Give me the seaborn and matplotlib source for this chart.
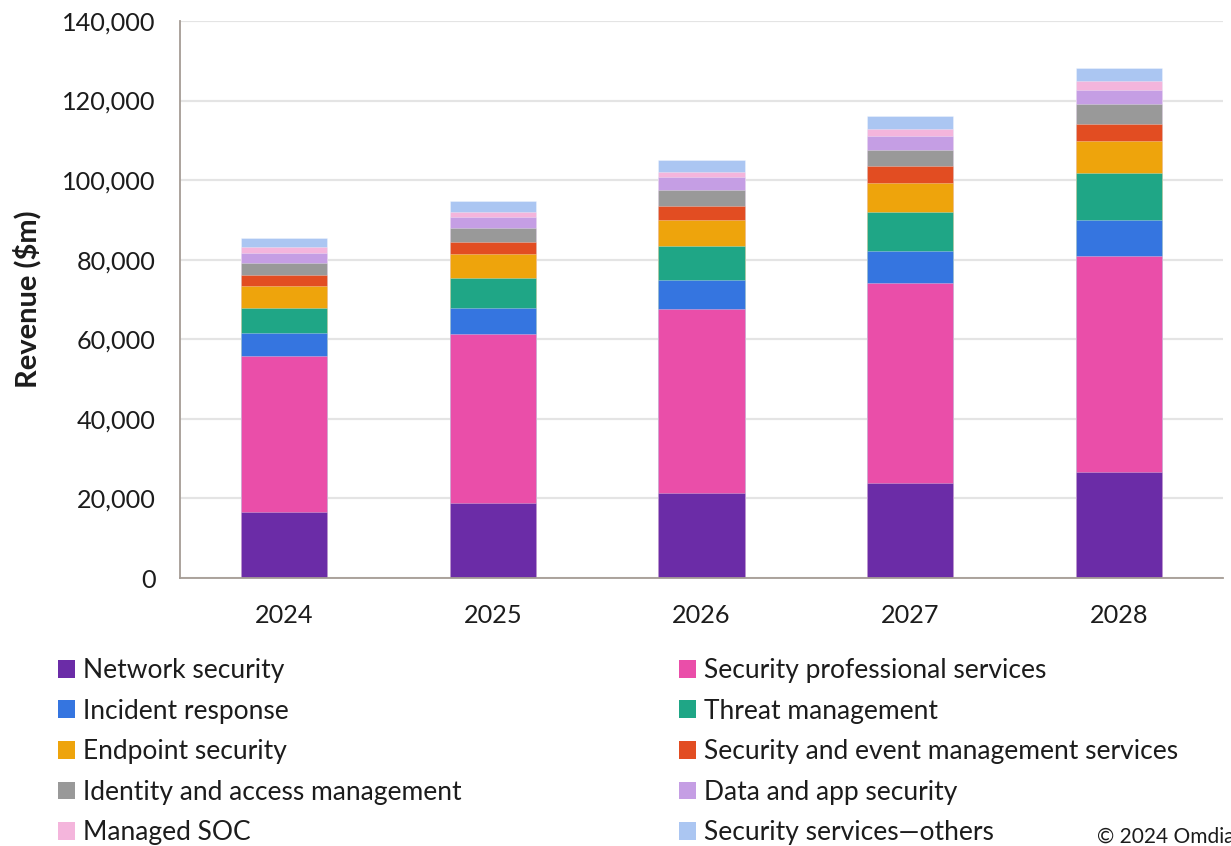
import matplotlib
matplotlib.use("Agg")
import matplotlib.pyplot as plt
from matplotlib.patches import Patch
from matplotlib.ticker import FuncFormatter, MultipleLocator, FixedLocator
import numpy as np
import pandas as pd
import seaborn as sns

# Revenue by segment, $m
years = ["2024", "2025", "2026", "2027", "2028"]
network_security = [16500, 18850, 21400, 23800, 26550]
security_professional_services = [39380, 42560, 46140, 50270, 54460]
incident_response = [5780, 6530, 7290, 8040, 9050]
threat_management = [6280, 7540, 8620, 9960, 11660]
endpoint_security = [5450, 5880, 6530, 7210, 8040]
siem_services = [2770, 3090, 3520, 4200, 4430]
identity_access = [3090, 3450, 4100, 4180, 4870]
data_app_security = [2440, 2760, 3110, 3440, 3680]
managed_soc = [1430, 1410, 1340, 1760, 2100]
services_others = [2340, 2770, 3090, 3340, 3430]

segments = [
    ("Network security", network_security, "#6b2ca7"),
    ("Security professional services", security_professional_services, "#ea4ea9"),
    ("Incident response", incident_response, "#3575e0"),
    ("Threat management", threat_management, "#1fa686"),
    ("Endpoint security", endpoint_security, "#eea40c"),
    ("Security and event management services", siem_services, "#e24d22"),
    ("Identity and access management", identity_access, "#999999"),
    ("Data and app security", data_app_security, "#c59ee4"),
    ("Managed SOC", managed_soc, "#f4b5dc"),
    ("Security services\u2014others", services_others, "#abc6f2"),
]

sns.set_style("white")
plt.rcParams["font.family"] = ["Lato", "DejaVu Sans"]
text_color = "#1c1c1c"
axis_color = "#a59c95"

fig = plt.figure(figsize=(12.31, 8.46), dpi=100)
ax = fig.add_axes([180 / 1231, 268 / 846, 1043 / 1231, 557 / 846])

# Stacked columns: draw running totals from the top layer down
running = np.zeros(len(years))
cumulative = []
for name, vals, color in segments:
    running = running + np.array(vals, dtype=float)
    cumulative.append((name, running.copy(), color))

for name, tops, color in reversed(cumulative):
    sns.barplot(x=years, y=tops, color=color, saturation=1, width=0.414,
                errorbar=None, ax=ax, order=years,
                edgecolor=(1, 1, 1, 0.35), linewidth=0.6, zorder=3)

ax.set_ylim(0, 140000)
ax.set_xlim(-0.5, 4.5)
ax.yaxis.set_major_locator(MultipleLocator(20000))
ax.yaxis.set_major_formatter(FuncFormatter(lambda v, p: f"{int(v):,}"))
ax.yaxis.grid(True, color="#e4e4e4", linewidth=1.6, zorder=0)
ax.xaxis.grid(False)
ax.set_axisbelow(True)

for side in ("top", "right"):
    ax.spines[side].set_visible(False)
for side in ("left", "bottom"):
    ax.spines[side].set_color(axis_color)
    ax.spines[side].set_linewidth(1.3)
    ax.spines[side].set_zorder(4)

ax.xaxis.set_minor_locator(FixedLocator(np.arange(-0.5, 5.0, 1.0)))
ax.tick_params(axis="x", which="major", length=0, pad=19, labelsize=18.2,
               labelcolor=text_color)
ax.tick_params(axis="x", which="minor", length=6.5, width=1.3, color=axis_color,
               direction="out")
ax.tick_params(axis="y", which="major", length=6.5, width=1.3, color=axis_color,
               direction="out", pad=11, labelsize=18.2, labelcolor=text_color)

ax.set_xlabel("")
ax.set_ylabel("Revenue ($m)", fontsize=21, fontweight="bold", color=text_color,
              labelpad=15)

# Two-column legend placed below the plot
handles = [Patch(facecolor=c, edgecolor="none", label=n) for n, _, c in segments]
left_col = handles[0::2]
right_col = handles[1::2]
legend_kw = dict(frameon=False, fontsize=19, handlelength=0.65, handleheight=0.65,
                 handletextpad=0.3, labelspacing=0.59, borderaxespad=0,
                 borderpad=0, labelcolor=text_color, loc="upper left")
fig.legend(handles=left_col, bbox_to_anchor=(58 / 1231, 1 - 658 / 846), **legend_kw)
fig.legend(handles=right_col, bbox_to_anchor=(679 / 1231, 1 - 658 / 846), **legend_kw)

fig.text(1097 / 1231, 1 - 843 / 846, "\u00a9 2024 Omdia", fontsize=15,
         color=text_color, ha="left", va="baseline")

fig.savefig("out.png", dpi=100)
